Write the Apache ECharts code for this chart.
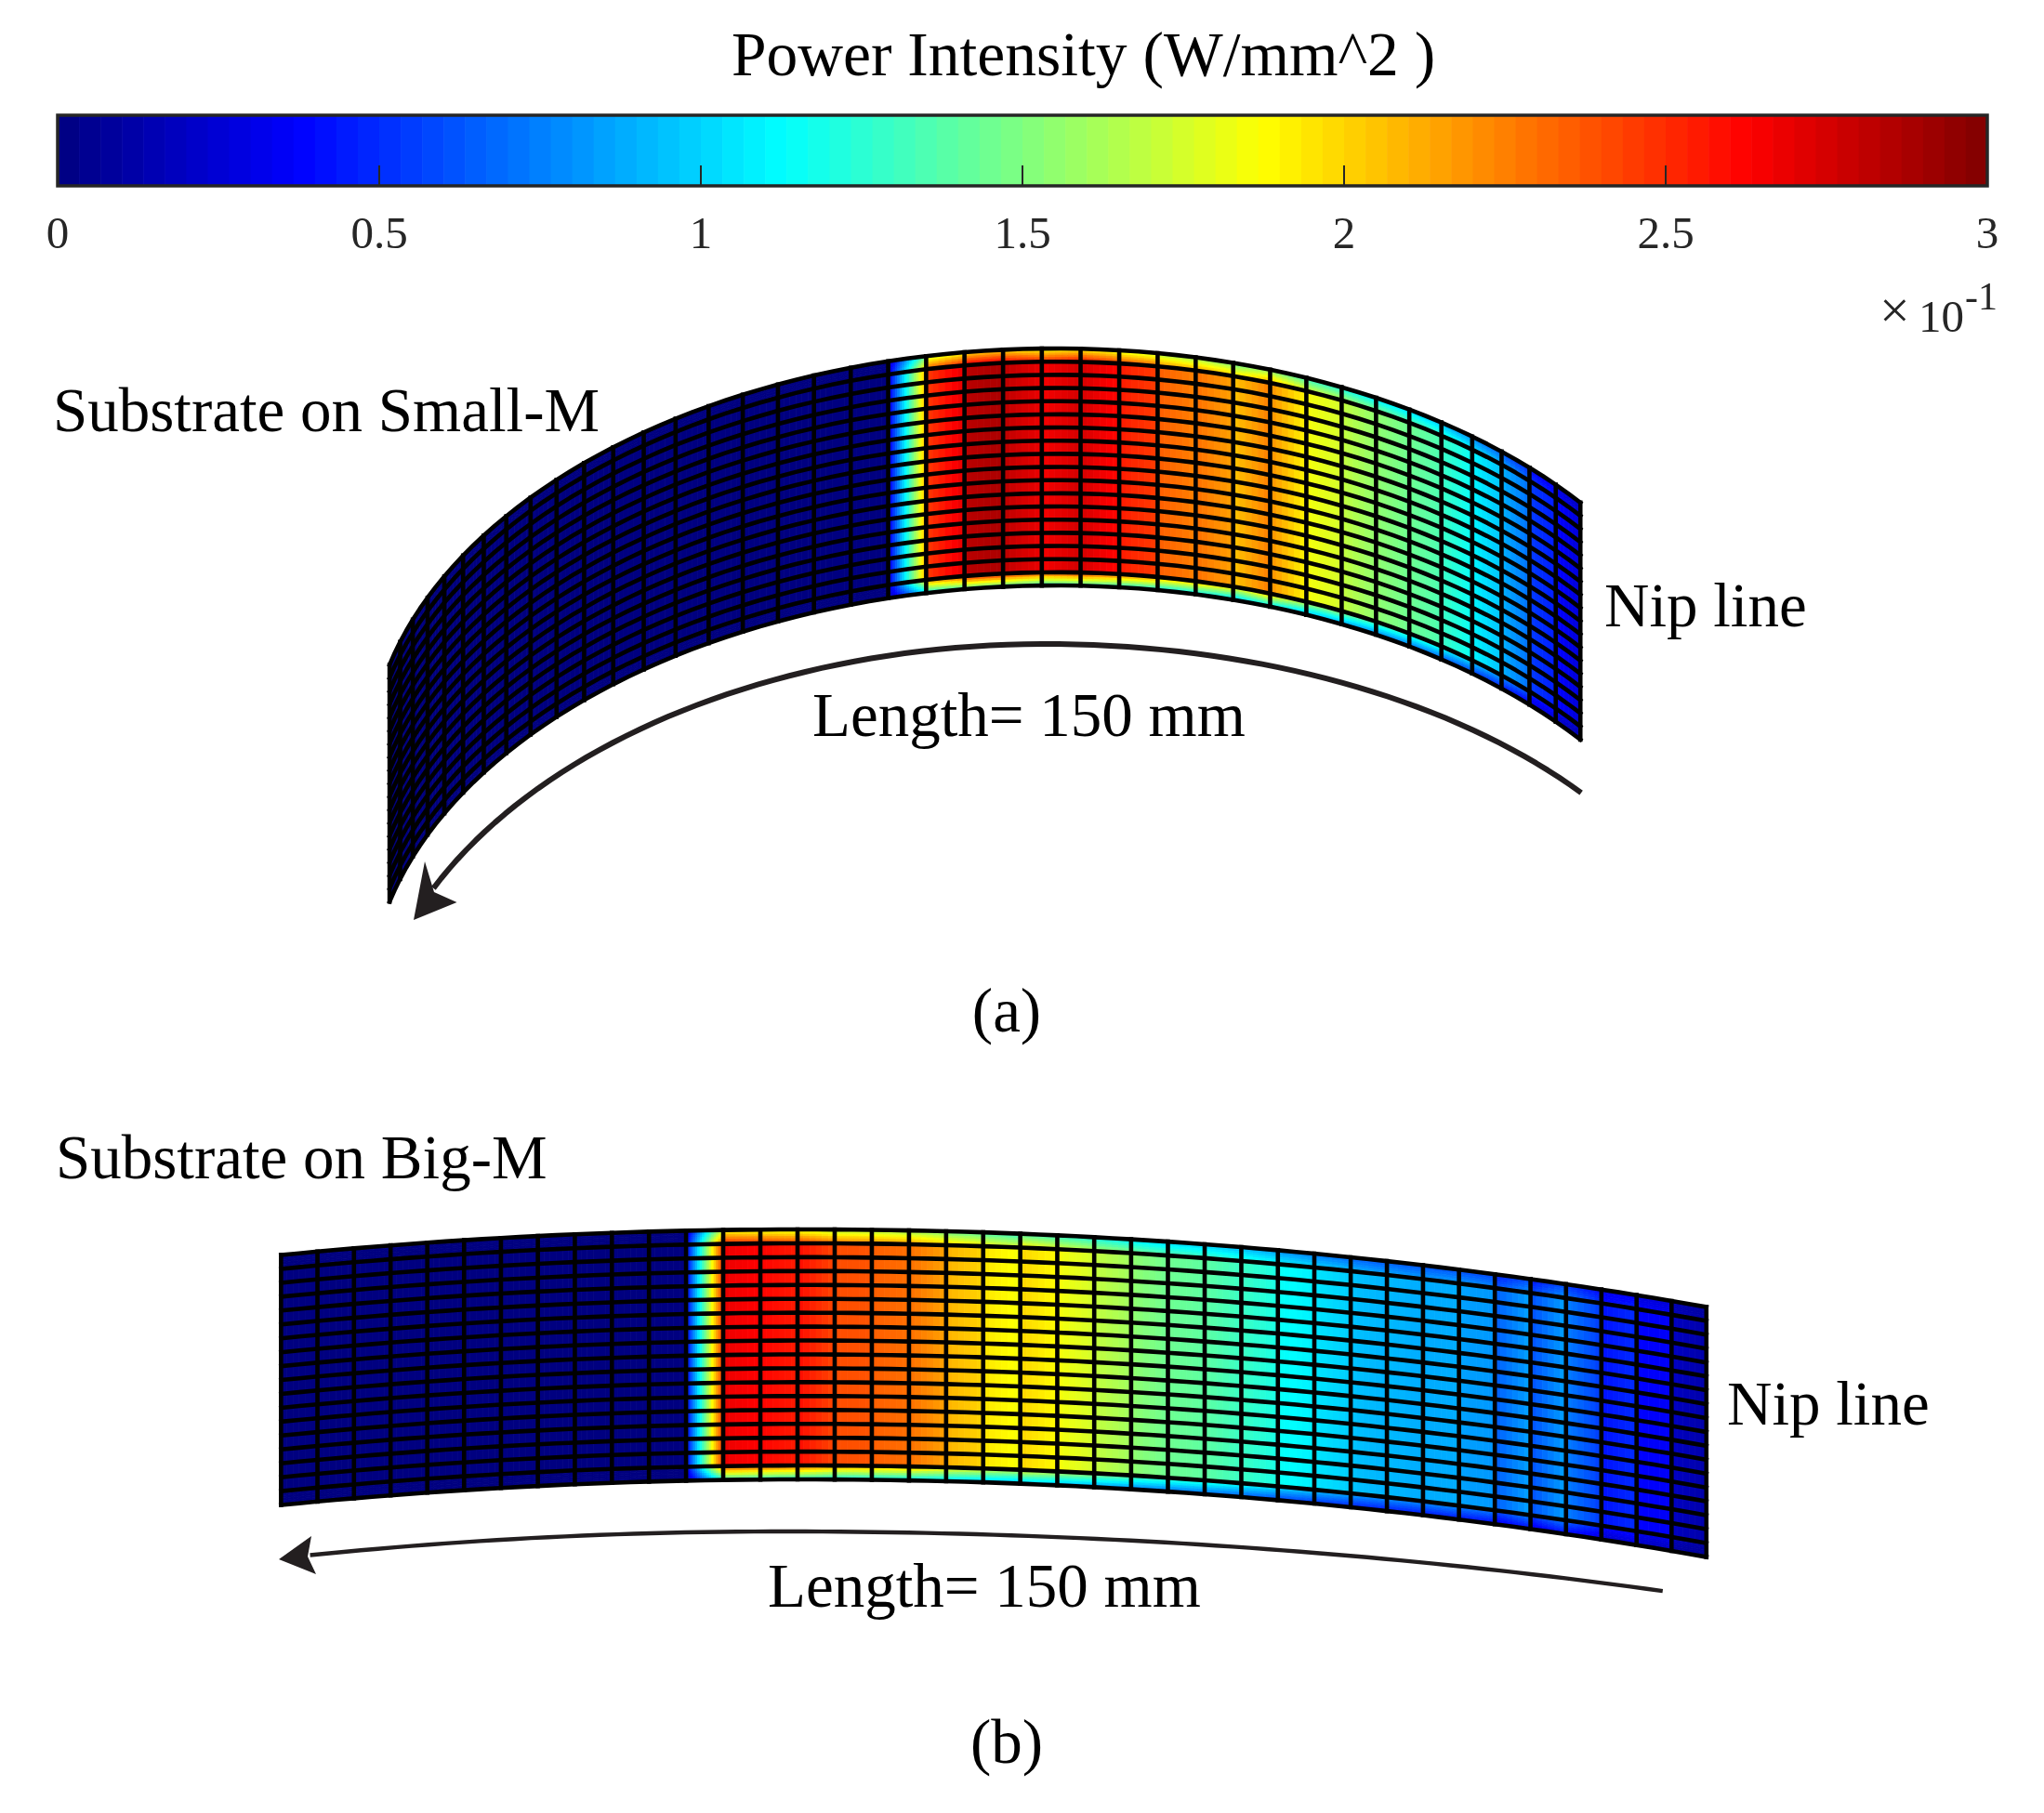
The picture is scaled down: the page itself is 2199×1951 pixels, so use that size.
<!DOCTYPE html>
<html><head><meta charset="utf-8">
<style>html,body{margin:0;padding:0;background:#fff}#c{width:2199px;height:1951px}</style>
<script src="https://cdn.jsdelivr.net/npm/echarts@6/dist/echarts.min.js"></script>
</head><body><div id="c"></div>
<script>
// ---- data: intensity (x 10^-1 W/mm^2) at each column's two ends ----
const smallMStart = [0,0,0,0,0,0,0,0,0,0,0,0,0,0,0,0,0,0,0,0.25,2.45,2.83,2.82,2.65,2.75,2.55,2.35,2.3,2.05,2.2,1.85,1.7,1.55,1.45,1.3,1.1,0.9,0.55,0.4];
const smallMEnd   = [0,0,0,0,0,0,0,0,0,0,0,0,0,0,0,0,0,0,0,2.1,2.7,2.87,2.68,2.75,2.6,2.45,2.25,2.15,2.25,1.9,1.75,1.55,1.45,1.35,1.15,0.95,0.7,0.45,0.25];
const bigMStart   = [0,0,0,0,0,0,0,0,0,0,0,0.3,2.68,2.62,2.6,2.4,2.35,2.3,2.1,1.95,2.0,1.85,1.7,1.55,1.45,1.4,1.3,1.15,1.05,0.95,0.92,0.88,0.85,0.65,0.6,0.75,0.42,0.38,0.2];
const bigMEnd     = [0,0,0,0,0,0,0,0,0,0,0,2.5,2.62,2.55,2.42,2.38,2.3,2.15,2.0,1.85,1.88,1.75,1.6,1.45,1.4,1.3,1.2,1.08,0.98,0.9,0.88,0.88,0.82,0.85,0.85,0.55,0.5,0.35,0.12];
const rowCount = 18;
const topRowFactor = [0.68, 0.95];      // intensity drop across the outermost row
const bottomRowFactor = [0.92, 0.48];
const colorbarTicks = [0, 0.5, 1, 1.5, 2, 2.5, 3];
const colorbarLevels = 90;
const labels = {
  title: 'Power Intensity (W/mm^2 )',
  small: 'Substrate on Small-M', big: 'Substrate on Big-M',
  nip: 'Nip line', len: 'Length= 150 mm', a: '(a)', b: '(b)'
};
// ---- curved-sheet model of each panel (page units) ----
const sheetA = {xc:1125, ic:23.1, d:0.0573, R:728, phi:0.015, Ry:442, y0:375, h:255};
const sheetB = {xc:866, ic:14.2, d:0.0147, R:2720, phi:0, Ry:1270, y0:1323, h:269};
const arcA = {xc:1125, R:730, y0:693, RyNeg:462, RyPos:415, from:0.9095, to:-1.125};
const arcB = {xc:841, R:2715, y0:1648, RyNeg:1450, RyPos:1020, from:0.3566, to:-0.188};
const headA = [[445,990],[457,927],[467,960],[491.5,971]];
const headB = [[300,1678],[335,1653],[331,1675],[340,1694]];

function jet(v){
  const t = Math.max(0, Math.min(1, v/3));
  const f = c => Math.round(255*Math.max(0, Math.min(1, 1.5 - Math.abs(4*t - c))));
  return 'rgb('+f(3)+','+f(2)+','+f(1)+')';
}
function project(p, s, w){ // s: column position, w: 0..1 across the sheet
  const th = (s - p.ic)*p.d;
  return [p.xc + p.R*Math.sin(th), p.y0 + p.Ry*(1 - Math.cos(th - p.phi)) + p.h*w];
}
function cellsOf(start, end){
  const out = [];
  for (let c = 0; c < start.length; c++) for (let r = 0; r < rowCount; r++) out.push([c, r, start[c], end[c]]);
  return out;
}
function cellSeries(p, start, end){
  return {
    type:'custom', coordinateSystem:'cartesian2d', xAxisIndex:0, yAxisIndex:0, silent:true, clip:false,
    animation:false, progressive:0, z:3,
    data: cellsOf(start, end),
    renderItem(params, api){
      const c = api.value(0), r = api.value(1), a = api.value(2), b = api.value(3);
      const ns = Math.abs(a-b) > 0.5 ? 16 : 6;
      const edge = r === 0 || r === rowCount-1;
      const nw = edge ? 6 : 1;
      const children = [];
      for (let i = 0; i < ns; i++) for (let j = 0; j < nw; j++){
        const s0 = c + i/ns, s1 = c + (i+1)/ns;
        const w0 = (r + j/nw)/rowCount, w1 = (r + (j+1)/nw)/rowCount;
        let v = a + (b-a)*(i+0.5)/ns;
        if (edge){
          const k = (j+0.5)/nw, fac = r === 0 ? topRowFactor : bottomRowFactor;
          v *= fac[0] + (fac[1]-fac[0])*k;
        }
        const col = jet(v);
        children.push({type:'polygon', shape:{points:[
          api.coord(project(p,s0,w0)), api.coord(project(p,s1,w0)),
          api.coord(project(p,s1,w1)), api.coord(project(p,s0,w1))]},
          style:{fill:col, stroke:col, lineWidth:0.8}});
      }
      return {type:'group', children};
    }
  };
}
function meshSeries(p, cols){
  const data = [];
  for (let i = 0; i <= cols; i++) data.push([0, i]);
  for (let j = 0; j <= rowCount; j++) data.push([1, j]);
  return {
    type:'custom', coordinateSystem:'cartesian2d', xAxisIndex:0, yAxisIndex:0, silent:true, clip:false,
    animation:false, progressive:0, z:4, data,
    renderItem(params, api){
      const kind = api.value(0), k = api.value(1), pts = [];
      if (kind === 0){ pts.push(api.coord(project(p,k,0)), api.coord(project(p,k,1))); }
      else for (let s = 0; s <= cols; s += 0.5) pts.push(api.coord(project(p,s,k/rowCount)));
      return {type:'polyline', shape:{points:pts}, style:{fill:null, stroke:'#000', lineWidth:4.6, lineJoin:'round', lineCap:'square'}};
    }
  };
}
function arcPoints(a){
  const pts = [], n = 80;
  for (let i = 0; i <= n; i++){
    const th = a.from + (a.to - a.from)*i/n;
    pts.push([a.xc + a.R*Math.sin(th), a.y0 + (th < 0 ? a.RyNeg : a.RyPos)*(1 - Math.cos(th))]);
  }
  return pts;
}
function arrowLine(a, width){
  return {type:'line', xAxisIndex:0, yAxisIndex:0, data:arcPoints(a), smooth:false, symbol:'none', silent:true, animation:false, clip:false, z:5,
          lineStyle:{color:'#231f20', width, cap:'butt', join:'round'}};
}
function headSeries(pts){
  return {type:'custom', coordinateSystem:'cartesian2d', xAxisIndex:0, yAxisIndex:0, silent:true, animation:false, clip:false, z:6,
    data:[pts.flat()],
    renderItem(params, api){
      const points = [];
      for (let i = 0; i < pts.length; i++) points.push(api.coord([api.value(2*i), api.value(2*i+1)]));
      return {type:'polygon', shape:{points}, style:{fill:'#231f20'}};
    }};
}
const bands = [];
for (let i = 0; i < colorbarLevels; i++) bands.push([i*3/colorbarLevels, (i+1)*3/colorbarLevels]);
const colorbarSeries = {
  type:'custom', coordinateSystem:'cartesian2d', xAxisIndex:1, yAxisIndex:1, silent:true, animation:false, z:2,
  data: bands,
  renderItem(params, api){
    const a = api.coord([api.value(0), 1]), b = api.coord([api.value(1), 0]);
    return {type:'rect', shape:{x:a[0], y:a[1], width:b[0]-a[0]+0.6, height:b[1]-a[1]},
            style:{fill: jet((api.value(0)+api.value(1))/2)}};
  }
};
const colorbarFrame = {
  type:'custom', coordinateSystem:'cartesian2d', xAxisIndex:1, yAxisIndex:1, silent:true, animation:false, clip:false, z:7,
  data:[[0,1,3,0]],
  renderItem(params, api){
    const a = api.coord([api.value(0), api.value(1)]), b = api.coord([api.value(2), api.value(3)]);
    return {type:'rect', shape:{x:a[0], y:a[1], width:b[0]-a[0], height:b[1]-a[1]}, style:{fill:null, stroke:'#262626', lineWidth:3.5}};
  }
};
const FONT = '"Liberation Serif", "Times New Roman", serif';
function label(text, x, y, align){
  return {type:'text', silent:true, z:10, style:{text, x, y, fill:'#000', font:'67px '+FONT, textAlign:align||'left', textVerticalAlign:'middle'}};
}
function smallLabel(text, x, y, size){
  return {type:'text', silent:true, z:10, style:{text, x, y, fill:'#262626', font:size+'px '+FONT, textAlign:'left', textVerticalAlign:'middle'}};
}
const chart = echarts.init(document.getElementById('c'), null, {renderer:'canvas', width:2199, height:1951});
chart.setOption({
  animation:false, backgroundColor:'#fff',
  title:{text:labels.title, left:787, top:29, padding:0, textStyle:{fontFamily:FONT, fontWeight:'normal', fontSize:67.5, color:'#000'}},
  grid:[
    {left:0, top:0, width:2199, height:1951, containLabel:false},
    {left:62, top:124, width:2076, height:76, containLabel:false}
  ],
  xAxis:[
    {gridIndex:0, type:'value', min:0, max:2199, show:false},
    {gridIndex:1, type:'value', min:0, max:3, interval:0.5, z:8, splitLine:{show:false},
     axisLine:{show:false},
     axisTick:{show:true, inside:true, length:22, lineStyle:{color:'#262626', width:2}},
     axisLabel:{show:true, margin:30, fontFamily:FONT, fontSize:49, color:'#262626', showMinLabel:true, showMaxLabel:true, hideOverlap:false,
       customValues:colorbarTicks},
     }
  ],
  yAxis:[
    {gridIndex:0, type:'value', min:0, max:1951, inverse:true, show:false},
    {gridIndex:1, type:'value', min:0, max:1, show:false}
  ],
  series:[
    colorbarSeries, colorbarFrame,
    cellSeries(sheetA, smallMStart, smallMEnd), meshSeries(sheetA, smallMStart.length),
    cellSeries(sheetB, bigMStart, bigMEnd), meshSeries(sheetB, bigMStart.length),
    arrowLine(arcA, 6), headSeries(headA),
    arrowLine(arcB, 4.4), headSeries(headB)
  ],
  graphic:{elements:[
    label(labels.small, 57, 446),
    label(labels.nip, 1726, 656),
    label(labels.len, 874, 774),
    label(labels.a, 1083, 1092, 'center'),
    label(labels.big, 60, 1250),
    label(labels.nip, 1858, 1515),
    label(labels.len, 826, 1711),
    label(labels.b, 1083, 1879, 'center'),
    smallLabel('\u00d7', 2022, 338, 58),
    smallLabel('10', 2064, 344, 49),
    smallLabel('-1', 2114, 322, 42)
  ]}
});
</script></body></html>
